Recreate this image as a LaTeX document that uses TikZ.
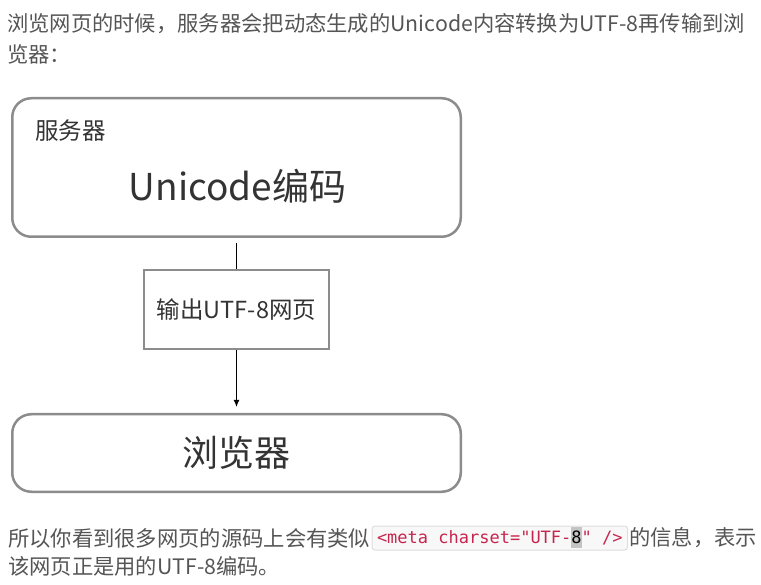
\documentclass[tikz,border=0pt]{standalone}
\usepackage{fontspec}
\usepackage{xcolor}
\usetikzlibrary{positioning,arrows.meta}
\newfontfamily\cjkfont{Noto Sans CJK SC}
\newfontfamily\codefont{DejaVu Sans Mono}[Ligatures=TeXOff]
\definecolor{boxgray}{HTML}{8C8C8C}
\definecolor{paragray}{HTML}{555555}
\definecolor{diagtext}{HTML}{333333}
\definecolor{codered}{HTML}{C7254E}
\definecolor{codebg}{HTML}{F8F8F8}
\definecolor{codeline}{HTML}{DDDDDD}
\definecolor{selgray}{HTML}{C4C4C4}
\newcommand{\selmark}[1]{{\setlength{\fboxsep}{0pt}\colorbox{selgray}{\rule[-5pt]{0pt}{21pt}\textcolor{black}{#1}}}}
\tikzset{
  para/.style={anchor=west, inner sep=0pt, text=paragray, font=\cjkfont\fontsize{21.3}{26}\selectfont},
  roundbox/.style={draw=boxgray, line width=2.5pt, rounded corners=19pt, minimum width=448.5pt},
  plainbox/.style={draw=boxgray, line width=2pt, minimum width=185pt, minimum height=79pt,
    text=diagtext, font=\cjkfont\fontsize{23.5}{28}\selectfont},
  bigtext/.style={text=diagtext, inner sep=0pt, font=\cjkfont\fontsize{37}{44}\selectfont},
  codebox/.style={draw=codeline, fill=codebg, line width=1pt, rounded corners=3pt,
    inner xsep=5pt, inner ysep=1.5pt, text=codered, font=\codefont\fontsize{17}{20}\selectfont}
}
\begin{document}
\begin{tikzpicture}[x=1pt,y=-1pt]
\useasboundingbox (0,0) rectangle (761,585);

% Text above the diagram
\node[para] (intro1) at (7,24) {浏览网页的时候，服务器会把动态生成的Unicode内容转换为UTF-8再传输到浏};
\node[para] (intro2) at (7,54) {览器：};

% Server box
\node[roundbox, minimum height=138.5pt] (server) at (236.5,167.5) {};
\node[anchor=west, inner sep=0pt, text=diagtext, font=\cjkfont\fontsize{23.5}{28}\selectfont] (srvname) at (35,131) {服务器};
\node[bigtext] (unicode) at (237.5,186) {Unicode编码};

% Output step
\node[plainbox] (page) at (236.5,309.5) {输出UTF-8网页};

% Browser box
\node[roundbox, minimum height=77.5pt, text=diagtext, font=\cjkfont\fontsize{36}{44}\selectfont] (browser) at (236.5,453) {浏览器};

% Connectors
\draw[line width=1.2pt, shorten <=5pt] (server) -- (page);
\draw[line width=1.2pt, -{Latex[length=7pt,width=6pt]}, shorten >=6pt] (page) -- (browser);

% Text below the diagram
\node[para] (outro1) at (8,538) {所以你看到很多网页的源码上会有类似};
\node[codebox, right=1pt of outro1] (code) {<meta charset="UTF-\selmark{8}" />};
\node[para, right=1pt of code] (outro2) {的信息，表示};
\node[para] (outro3) at (8,566) {该网页正是用的UTF-8编码。};
\end{tikzpicture}
\end{document}
